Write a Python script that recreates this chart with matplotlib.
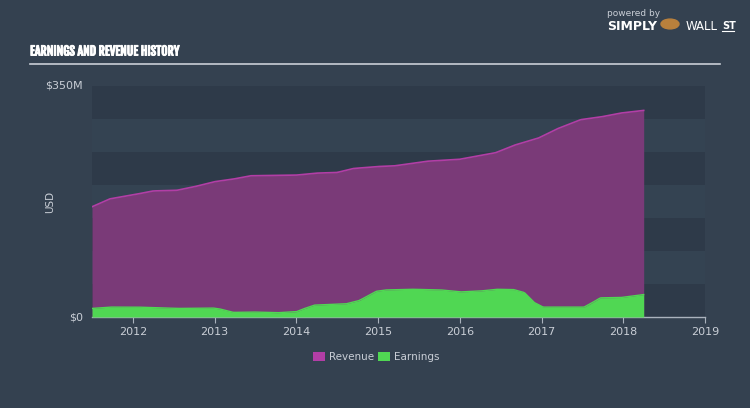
import numpy as np
import matplotlib
matplotlib.use("Agg")
import matplotlib.pyplot as plt
import matplotlib.patheffects as pe
from matplotlib.patches import Rectangle
from matplotlib import font_manager
from matplotlib.font_manager import FontProperties

# data (decimal years, values in $M)
rev_years = [2011.50, 2011.72, 2012.00, 2012.25, 2012.54, 2012.74, 2013.00, 2013.23,
             2013.44, 2014.00, 2014.25, 2014.50, 2014.70, 2015.00, 2015.20, 2015.60,
             2016.00, 2016.22, 2016.44, 2016.66, 2016.96, 2017.19, 2017.48, 2017.72,
             2017.97, 2018.25]
revenue = [167, 179, 185, 191, 192, 197, 205, 209, 214, 215, 218, 219, 225, 228, 229,
           236, 239, 244, 249, 260, 271, 285, 299, 303, 309, 313]

earn_years = [2011.50, 2011.72, 2012.05, 2012.33, 2012.54, 2012.99, 2013.07, 2013.23,
              2013.48, 2013.77, 2014.00, 2014.08, 2014.22, 2014.61, 2014.77, 2014.98,
              2015.10, 2015.25, 2015.43, 2015.77, 2016.01, 2016.26, 2016.46, 2016.66,
              2016.79, 2016.91, 2017.02, 2017.28, 2017.52, 2017.61, 2017.72, 2017.97,
              2018.25]
earnings = [13, 15, 15, 14, 13, 13.5, 12, 7, 7.5, 6.5, 8, 12, 18, 20, 25, 39, 41, 41.5,
            42, 41, 38, 39.5, 42, 41.5, 37, 22, 15, 15, 15, 21, 29, 29.5, 34]

x_ticks = [2012, 2013, 2014, 2015, 2016, 2017, 2018, 2019]
y_labels = ["$0", "$350M"]

BG = "#344150"
BAND_DARK = "#2e3a49"
BAND_LIGHT = "#344352"
TXT = "#c9ced6"
REV_FILL = "#7a3a78"
REV_LINE = "#b23ea6"
EARN = "#50d753"

# pick a tall condensed font for the title, best match first
wanted = ["fjallaone", "oswald", "antonio", "pathwaygothic", "bebas", "leaguegothic",
          "asapcondensed-bold", "narrow"]
files = [f.fname for f in font_manager.fontManager.ttflist]
narrow, tsize = None, 10
for w in wanted:
    hits = [p for p in files if w in p.lower().replace(" ", "")]
    bold = [p for p in hits if "bold" in p.lower() and "semi" not in p.lower()]
    pick = (bold or hits)
    if pick:
        narrow = pick[0]
        tsize = {"fjallaone": 9.5, "oswald": 9.5, "antonio": 10.5, "pathwaygothic": 12,
                 "bebas": 12, "leaguegothic": 12}.get(w, 10) * 0.92
        break

fig = plt.figure(figsize=(7.5, 4.08), dpi=100, facecolor=BG)
ax = fig.add_axes([92 / 750, 1 - 317 / 408, (705 - 92) / 750, (317 - 86) / 408])
ax.set_facecolor(BG)
ax.set_xlim(2011.5, 2019.0)
ax.set_ylim(0, 350)

# alternating background bands, 50M each
for i in range(7):
    c = BAND_DARK if i % 2 == 0 else BAND_LIGHT
    ax.add_patch(Rectangle((2011.5, i * 50), 7.5, 50, facecolor=c, edgecolor="none", zorder=0))

def dense(xs, ys):
    xd = np.linspace(xs[0], xs[-1], 400)
    return xd, np.interp(xd, xs, ys)

rx, ry = dense(rev_years, revenue)
ex, ey = dense(earn_years, earnings)

ax.fill_between(rx, 0, ry, color=REV_FILL, lw=0, zorder=2)
ax.plot(rx, ry, color=REV_LINE, lw=1.2, zorder=3)
ax.fill_between(ex, 0, ey, color=EARN, lw=0, zorder=4)
ax.plot(ex, ey, color=EARN, lw=1.0, zorder=5)

for s in ["top", "right", "left"]:
    ax.spines[s].set_visible(False)
ax.spines["bottom"].set_color("#aab2bd")
ax.spines["bottom"].set_linewidth(1)

ax.set_xticks(x_ticks)
ax.set_xticklabels([str(t) for t in x_ticks])
ax.tick_params(axis="x", colors="#aab2bd", labelcolor=TXT, labelsize=8, length=4, pad=3)
ax.set_yticks([])

ax.text(-0.015, 0, y_labels[0], transform=ax.transAxes, ha="right", va="center",
        color=TXT, fontsize=8)
ax.text(-0.015, 1, y_labels[1], transform=ax.transAxes, ha="right", va="center",
        color=TXT, fontsize=8)
fig.text(50 / 750, 1 - 202 / 408, "USD", rotation=90, ha="center", va="center",
         color=TXT, fontsize=7.5)

# title and rule
if narrow:
    tprops = FontProperties(fname=narrow, size=tsize)
else:
    tprops = FontProperties(family="Roboto", weight="bold", size=7.5)
fig.text(30 / 750, 1 - 52 / 408, "EARNINGS AND REVENUE HISTORY", color="white",
         fontproperties=tprops, ha="left", va="center",
         path_effects=[pe.withStroke(linewidth=0.7, foreground="white")])
fig.add_artist(plt.Line2D([30 / 750, 720 / 750], [1 - 63.5 / 408] * 2,
                          color="#c9ced6", lw=1.2))

# logo text
fig.text(607 / 750, 1 - 14 / 408, "powered by", color="#c9ced6", fontsize=6.5,
         ha="left", va="center")
fig.text(607 / 750, 1 - 27 / 408, "SIMPLY", color="white", fontsize=9,
         fontweight="bold", ha="left", va="center")
fig.text(686 / 750, 1 - 27 / 408, "WALL", color="white", fontsize=8.5,
         ha="left", va="center")
fig.text(722 / 750, 1 - 26 / 408, "ST", color="white", fontsize=7,
         fontweight="bold", ha="left", va="center")
fig.add_artist(plt.Line2D([722 / 750, 734 / 750], [1 - 31 / 408] * 2, color="white", lw=0.8))
fig.add_artist(plt.Circle((670 / 750, 1 - 24 / 408), 0.012, transform=fig.transFigure,
                          color="#b9803c"))

# legend
for x0, col, lab in [(313, REV_LINE, "Revenue"), (378, EARN, "Earnings")]:
    fig.add_artist(Rectangle((x0 / 750, 1 - 361 / 408), 12 / 750, 9 / 408,
                             transform=fig.transFigure, facecolor=col, edgecolor="none"))
    fig.text((x0 + 16) / 750, 1 - 356.5 / 408, lab, color=TXT, fontsize=7.5,
             ha="left", va="center")

fig.savefig("out.png", dpi=100, facecolor=BG)
